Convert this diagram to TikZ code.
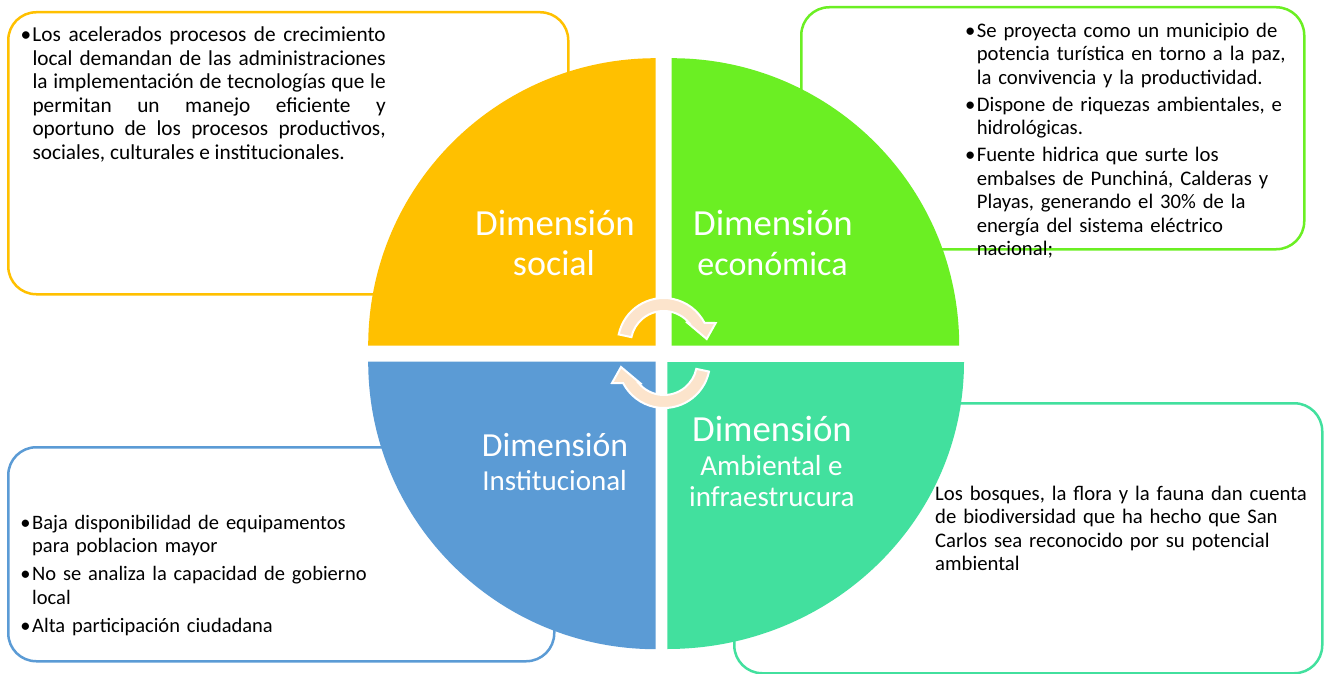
\documentclass[tikz,border=0pt]{standalone}
\usepackage{fontspec}
\setmainfont{Carlito}
\usepackage{tikz}
\definecolor{socialc}{HTML}{FFC000}
\definecolor{econc}{HTML}{6BEF23}
\definecolor{instc}{HTML}{5B9BD5}
\definecolor{ambc}{HTML}{42E09E}
\definecolor{flowc}{HTML}{FCE4CC}
\newcommand\bitem[1]{\hangindent=11.8pt\hangafter=1\noindent\makebox[11.8pt][l]{\textbullet}#1\par}

\begin{document}
\begin{tikzpicture}[x=1pt, y=1pt,
  infobox/.style={draw, line width=2.5pt, rounded corners=28pt, fill=white, inner sep=0pt, anchor=north west},
  boxtext/.style={inner sep=0pt, anchor=base west, font=\fontsize{20.7}{23.5}\selectfont},
  dimlabel/.style={text=white, inner sep=0pt, anchor=base},
  flowarrow/.style={fill=flowc, draw=white, line width=2pt}]
 \useasboundingbox (0,0) rectangle (1326,-674);
  \node[infobox, draw=socialc, minimum width=560pt, minimum height=282pt] (socbox) at (7,-11) {};
  \node[infobox, draw=econc, minimum width=503pt, minimum height=242pt] (econbox) at (800,-6) {};
  \node[infobox, draw=instc, minimum width=546pt, minimum height=214pt] (instbox) at (7,-446) {};
  \node[infobox, draw=ambc, minimum width=588pt, minimum height=270pt] (ambbox) at (733,-402) {};
  \fill[socialc] (655.7,-345.7) -- (368.2,-345.7) arc[start angle=180, end angle=90, radius=287.5] -- cycle;
  \fill[econc] (671.7,-345.7) -- (671.7,-58.2) arc[start angle=90, end angle=0, radius=287.5] -- cycle;
  \fill[instc] (655.7,-361.7) -- (368.2,-361.7) arc[start angle=180, end angle=270, radius=287.5] -- cycle;
  \fill[ambc] (667.3,-362) -- (964,-362) arc[start angle=0, end angle=-90, x radius=296.7, y radius=287] -- cycle;
  \node[boxtext, font=\fontsize{21.3}{23.5}\selectfont, text width=365pt, align=justify] (soctext) at (20.5,-41.7) {\tolerance=10000\hyphenpenalty=10000
    \bitem{Los acelerados procesos de crecimiento\linebreak local demandan de las administraciones\linebreak la implementación de tecnologías que le\linebreak permitan un manejo eficiente y\linebreak oportuno de los procesos productivos,\linebreak sociales, culturales e institucionales.}};
  \node[boxtext, text width=330pt, align=left] (econtext) at (964.8,-37.3) {\setlength{\parskip}{3.5pt}%
    \bitem{Se proyecta como un municipio de\newline potencia turística en torno a la paz,\newline la convivencia y la productividad.}
    \bitem{Dispone de riquezas ambientales, e\newline hidrológicas.}
    \bitem{Fuente hidrica que surte los\newline embalses de Punchiná, Calderas y\newline Playas, generando el 30\% de la\newline energía del sistema eléctrico\newline nacional;}};
  \node[boxtext, font=\fontsize{20.5}{23.5}\selectfont, text width=360pt, align=left] (insttext) at (20.2,-529.3) {\setlength{\parskip}{4.5pt}%
    \bitem{Baja disponibilidad de equipamentos\newline para poblacion mayor}
    \bitem{No se analiza la capacidad de gobierno\newline local}
    \bitem{Alta participación ciudadana}};
  \node[boxtext, text width=380pt, align=left] (ambtext) at (935,-500) {Los bosques, la flora y la fauna dan cuenta\newline de biodiversidad que ha hecho que San\newline Carlos sea reconocido por su potencial\newline ambiental};
  \node[dimlabel, font=\fontsize{36.8}{40}\selectfont] (socA) at (555,-235) {Dimensión};
  \node[dimlabel, font=\fontsize{36}{40}\selectfont] (socB) at (554,-275.7) {social};
  \node[dimlabel, font=\fontsize{36.8}{40}\selectfont] (econA) at (773,-235.7) {Dimensión};
  \node[dimlabel, font=\fontsize{34}{40}\selectfont] (econB) at (772.5,-275) {económica};
  \node[dimlabel, font=\fontsize{33.7}{38}\selectfont] (instA) at (555,-456.7) {Dimensión};
  \node[dimlabel, font=\fontsize{29}{34}\selectfont] (instB) at (554.6,-490.7) {Institucional};
  \node[dimlabel, font=\fontsize{36.8}{40}\selectfont] (ambA) at (772,-441.7) {Dimensión};
  \node[dimlabel, font=\fontsize{29}{34}\selectfont] (ambB) at (771.5,-475.7) {Ambiental e};
  \node[dimlabel, font=\fontsize{29}{34}\selectfont] (ambC) at (771.8,-506.7) {infraestrucura};
  \foreach \cx/\cy/\rot in {663.7/-344/0, 664/-362/180}
    \filldraw[flowarrow, shift={(\cx,\cy)}, rotate=\rot] (168:46) arc[start angle=168, end angle=27.2, radius=46] -- (52,21) -- (43,5) -- (24,21) -- (39.5:33) arc[start angle=39.5, end angle=168, radius=33] -- cycle;
\end{tikzpicture}
\end{document}
